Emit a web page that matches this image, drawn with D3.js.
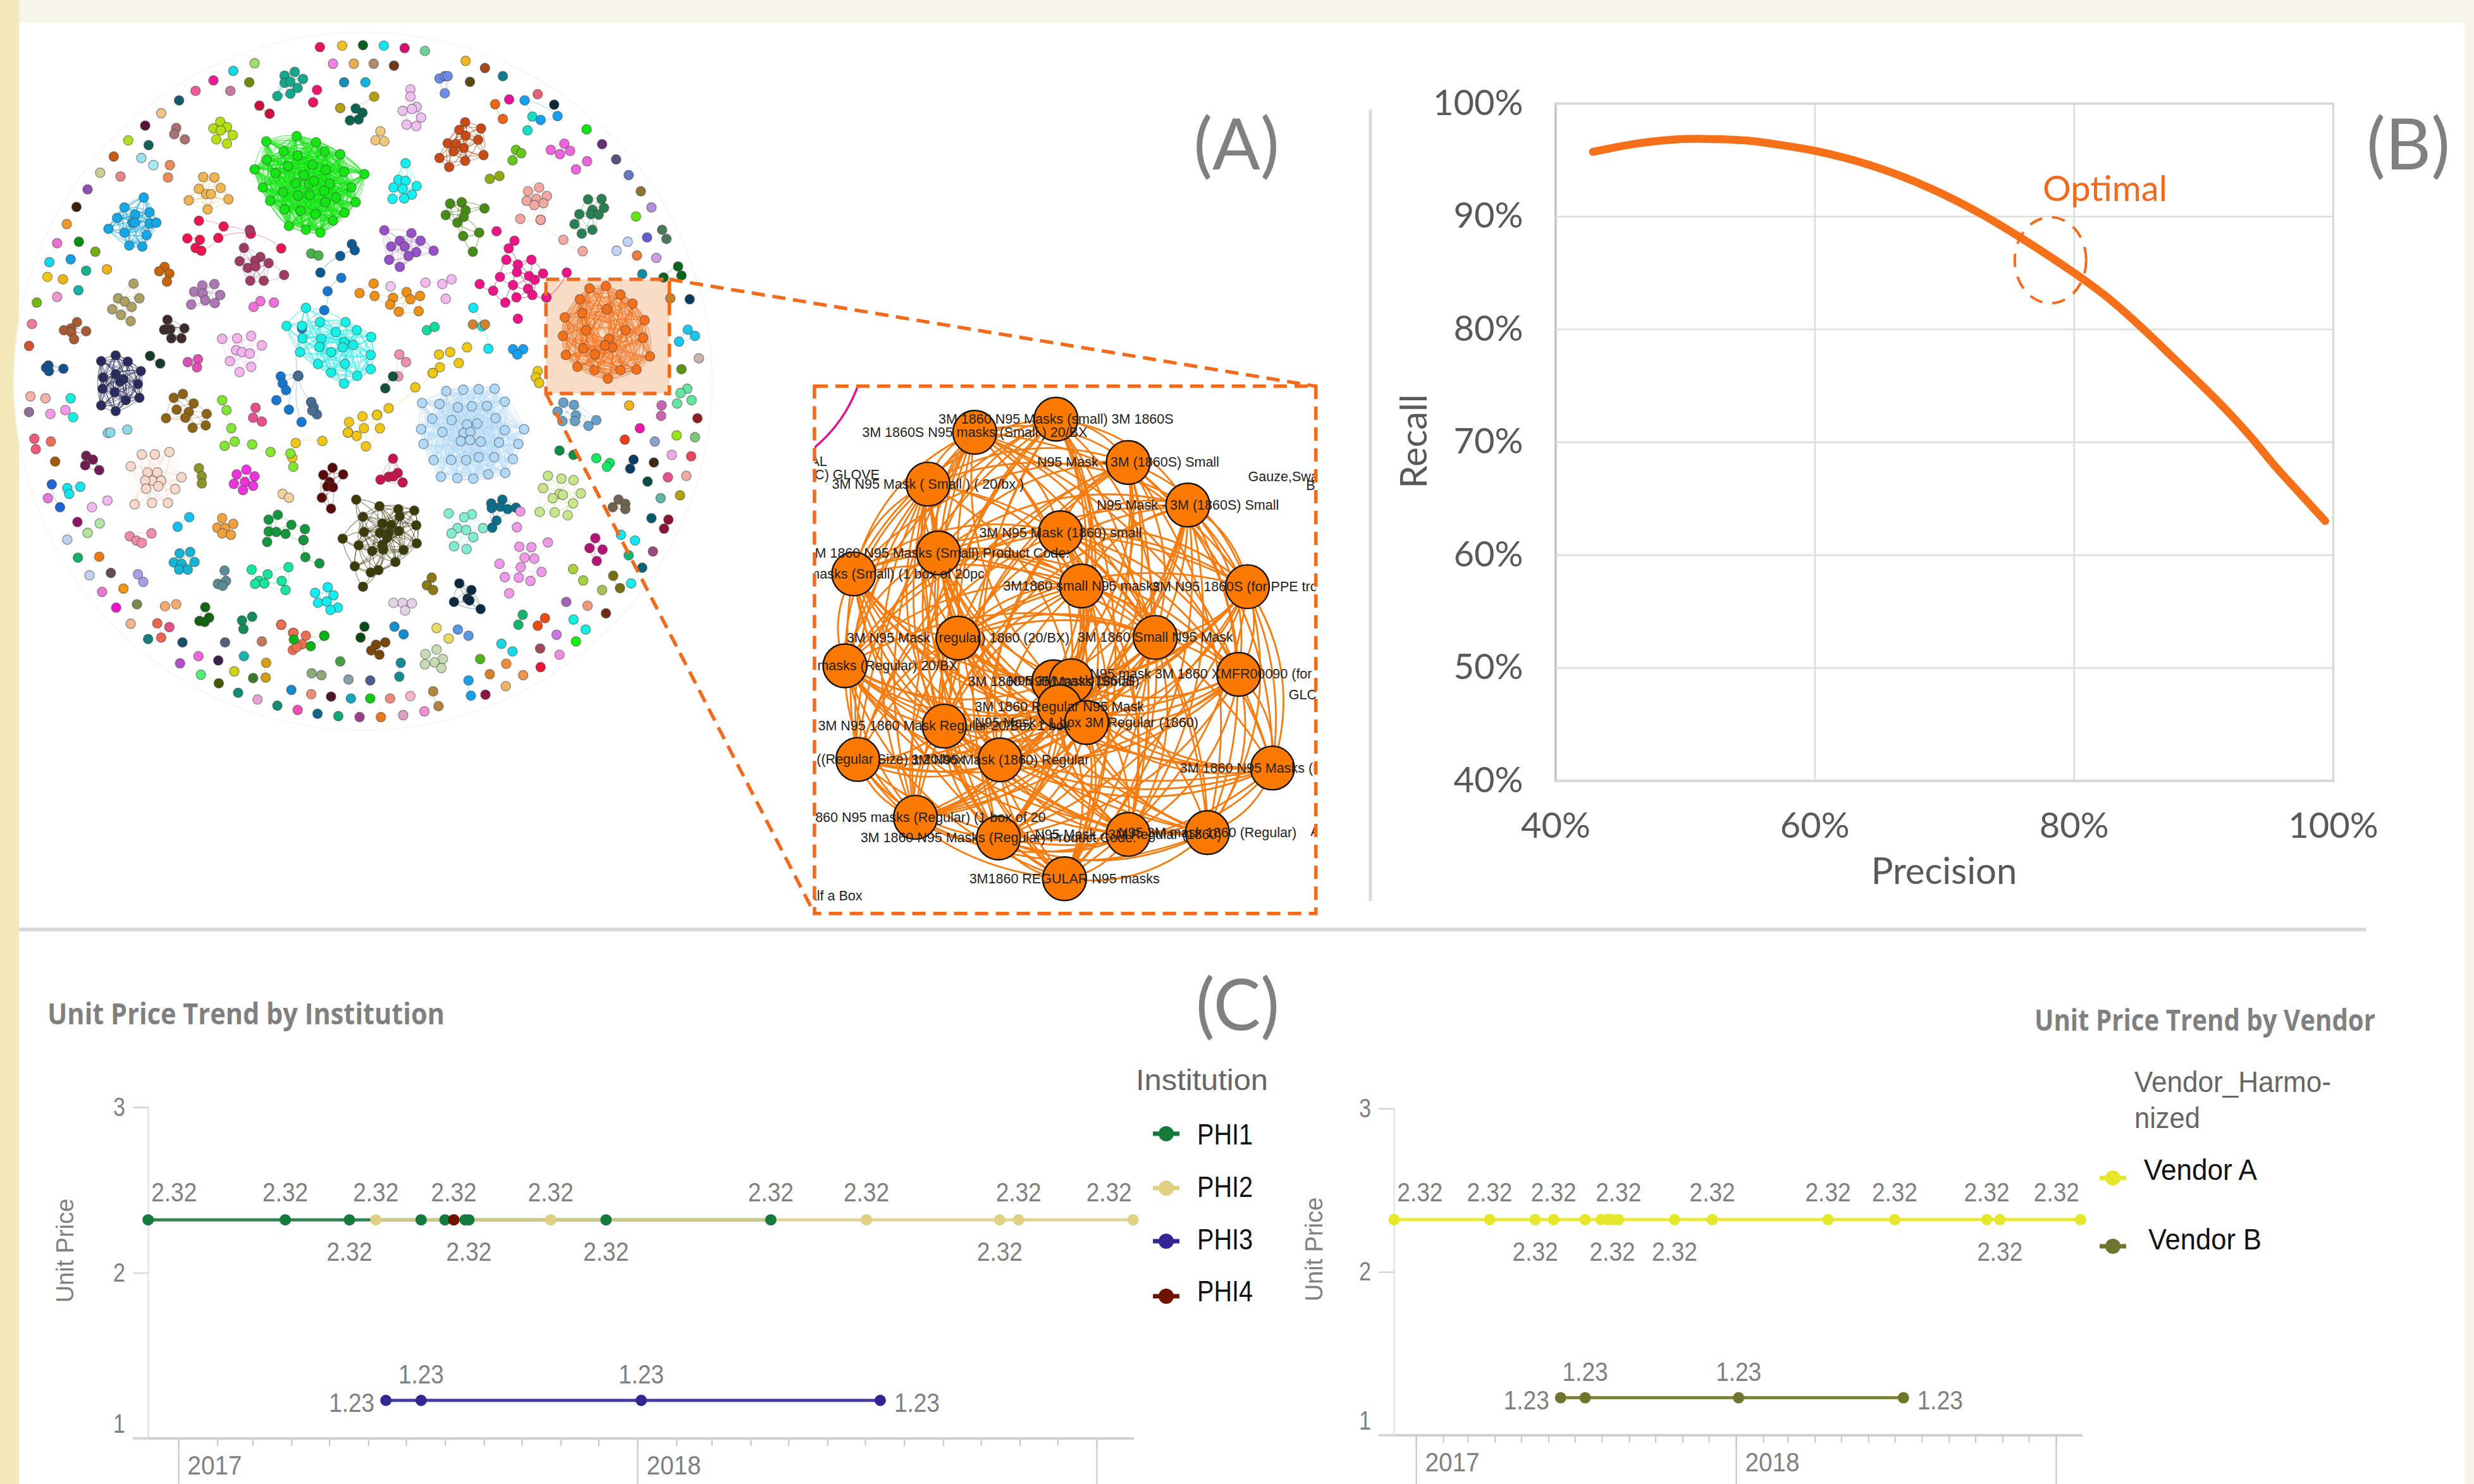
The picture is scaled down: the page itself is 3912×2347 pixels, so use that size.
<!DOCTYPE html>
<html>
<head>
<meta charset="utf-8">
<script src="https://d3js.org/d3.v7.min.js"></script>
<style>
html, body { margin: 0; padding: 0; background: #fff; }
svg { display: block; }
</style>
</head>
<body>
<svg id="chart" width="3912" height="2347"></svg>
<script>
// ---------- panel A data, node positions (units of the network layout) ----------
// third entry, where present: longest link drawn inside that cluster
const cliqueClusters = [
  ['#14a88c', [[609,151],[588,159],[626,166],[588,174],[600,172],[615,185],[573,202],[600,197]]],
  ['#ee1464', [[655,189],[647,215]]],
  ['#c8143c', [[536,222],[557,239]]],
  ['#b4a014', [[703,227],[773,203]]],
  ['#0a6450', [[735,228],[749,237],[723,253],[741,251]]],
  ['#eec0f0', [[848,188],[848,203],[861,225],[832,233],[851,229],[870,247],[840,262],[860,265]]],
  ['#6e8ce6', [[908,165],[919,160],[925,160],[919,196]]],
  ['#c84a14', [[961,257],[949,273],[962,285],[994,270],[925,301],[942,303],[958,311],[988,294],[908,332],[937,318],[999,326],[961,338],[928,351]], 70],
  ['#ee6414', [[1023,219],[1039,250]]],
  ['#14e0c8', [[1100,245],[1090,274]]],
  ['#14a0f0', [[1084,211],[1117,252],[1152,244]]],
  ['#ee64dc', [[1138,315],[1166,302],[1157,324],[1178,317]]],
  ['#ee64dc', [[1190,356],[1213,339]]],
  ['#64c814', [[1066,315],[1077,322],[1059,337]]],
  ['#8cac14', [[1012,376],[1032,370]]],
  ['#f4c878', [[786,276],[776,295],[794,297]]],
  ['#14f0f0', [[838,343],[823,378],[838,380],[813,394],[861,391],[832,397],[851,409],[811,418],[835,417]]],
  ['#b4e014', [[455,256],[441,270],[469,267],[456,274],[481,284],[447,293],[469,302]]],
  ['#a87070', [[364,269],[360,282],[382,293]]],
  ['#14e614', [[613,286],[550,297],[653,299],[703,324],[586,318],[615,327],[671,318],[526,356],[551,336],[595,349],[646,346],[569,364],[673,357],[711,361],[753,366],[628,368],[611,385],[638,387],[649,380],[543,394],[585,404],[616,411],[640,410],[681,386],[726,394],[558,422],[670,401],[694,415],[735,425],[588,440],[621,443],[672,425],[652,450],[712,447],[597,475],[632,483],[688,464],[662,489]]],
  ['#f0b450', [[420,372],[443,373],[411,397],[456,395],[426,408],[436,408],[390,421],[472,419],[429,440]]],
  ['#14a8e6', [[297,415],[257,436],[309,446],[279,451],[242,458],[309,470],[274,468],[278,468],[323,468],[224,481],[257,489],[303,494],[267,516],[294,518]]],
  ['#a03c64', [[516,483],[504,521],[495,549],[538,540],[527,548],[512,563],[555,553],[528,560],[587,578],[517,590],[545,590]], 60],
  ['#46b446', [[643,533],[658,537]]],
  ['#9650c8', [[794,484],[850,490],[826,506],[869,506],[808,518],[836,518],[896,527],[860,530],[844,538],[804,546],[826,561]], 75],
  ['#468c14', [[954,425],[930,428],[1001,438],[962,442],[921,452],[958,456],[945,468],[990,489],[957,496],[977,529]], 50],
  ['#f0a8a0', [[1114,394],[1091,402],[1130,412],[1108,418],[1088,422],[1123,427],[1104,431],[1075,460],[1117,462]], 50],
  ['#2a8050', [[1215,419],[1243,418],[1224,441],[1248,437],[1197,450],[1221,450],[1237,451],[1187,471],[1224,483],[1202,491]], 50],
  ['#4a7a5a', [[1368,483],[1377,502]]],
  ['#0a641e', [[1401,560],[1408,579],[1371,583]]],
  ['#ee1488', [[1026,486],[1063,506],[1051,522],[1046,546],[1098,546],[1070,556],[1068,572],[1033,582],[1060,599],[1093,580],[1105,588],[1122,575],[991,597],[1019,611],[1091,607],[1067,625],[1100,620],[1129,625],[1044,636],[1070,670]], 42],
  ['#aca064', [[276,596],[288,627],[244,627],[258,634],[272,645],[232,650],[250,662],[270,675]], 50],
  ['#c8640a', [[340,561],[329,570],[350,575],[345,592]]],
  ['#ac78b4', [[443,597],[418,600],[401,613],[419,617],[455,620],[424,631],[395,640],[444,637]]],
  ['#ee70d8', [[538,633],[566,636],[524,645]]],
  ['#f09014', [[772,596],[743,616],[774,622],[840,614],[868,622],[812,626],[848,629],[806,640],[824,655],[865,654]], 45],
  ['#f4b8f0', [[879,594],[914,597],[933,587],[921,628]], 40],
  ['#14f0e6', [[632,647],[592,685],[624,685],[661,677],[714,677],[737,694],[694,698],[625,711],[767,708],[664,712],[711,719],[730,725],[708,730],[660,729],[684,740],[620,740],[766,746],[657,765],[713,765],[684,783],[738,790],[766,776],[711,806]], 110],
  ['#d2822c', [[977,682],[1002,682]]],
  ['#14dca0', [[882,694],[898,687]]],
  ['#3c2c2c', [[346,672],[381,690],[343,692],[352,692],[339,693],[354,711],[375,711]]],
  ['#a85a32', [[159,677],[178,696],[147,690],[132,694],[147,698],[153,713]]],
  ['#f4b4f0', [[459,712],[490,711],[519,706],[541,726],[488,736],[500,740],[516,743],[475,759],[519,771],[495,782]]],
  ['#282c5c', [[239,747],[209,759],[264,760],[291,780],[239,786],[213,793],[255,797],[248,802],[285,807],[212,817],[237,824],[260,841],[288,836],[209,852],[239,864]]],
  ['#143c28', [[310,748],[331,764]]],
  ['#dc50b4', [[388,761],[409,755],[407,772]]],
  ['#14508c', [[100,768],[95,773],[101,780],[131,775]]],
  ['#f090b0', [[825,745],[839,761],[823,791]]],
  ['#145040', [[812,791],[796,816]]],
  ['#14a0f0', [[1060,734],[1081,734],[1069,745]]],
  ['#e6c814', [[1111,780],[1107,793],[1114,805]]],
  ['#f0c814', [[779,872],[721,887],[749,875],[785,900],[719,909],[752,900],[737,916],[756,938]], 50],
  ['#466e96', [[643,845],[648,856],[655,871],[645,863]]],
  ['#b0d8f8', [[922,822],[957,819],[989,818],[1022,817],[872,847],[908,849],[946,856],[975,854],[1006,853],[1043,844],[893,880],[933,883],[965,892],[986,890],[1024,879],[870,902],[914,908],[958,910],[972,908],[1043,904],[1083,902],[875,933],[952,927],[971,925],[993,928],[1031,930],[1071,933],[896,967],[932,967],[963,967],[989,961],[1021,961],[1060,965],[911,1002],[945,1005],[978,1006],[1009,997],[1044,994]]],
  ['#64a0c8', [[1164,846],[1186,851],[1152,865],[1190,873],[1162,885],[1232,883],[1216,895],[1188,885]], 60],
  ['#14c8f0', [[1421,693],[1403,718],[1436,706]]],
  ['#64e6a0', [[1420,817],[1406,826],[1399,848],[1429,841]]],
  ['#c864b4', [[1367,852],[1366,874]]],
  ['#0a3c64', [[1309,966],[1302,985]]],
  ['#8c1432', [[1381,1092],[1372,1111]]],
  ['#14e6f0', [[1312,1136],[1283,1124]]],
  ['#787014', [[1267,1210],[1281,1236]]],
  ['#a8d23c', [[1184,1196],[1205,1220]]],
  ['#14f0e0', [[1185,1302],[1210,1323]]],
  ['#14b46e', [[1080,1292],[1071,1313]]],
  ['#ee4a14', [[1126,1299],[1111,1315]]],
  ['#14d8e6', [[1036,1353],[1059,1369]]],
  ['#14a0e6', [[968,1430],[973,1462]]],
  ['#b4843c', [[895,1453],[906,1484]]],
  ['#d2a014', [[550,1393],[549,1424]]],
  ['#ee6450', [[333,1340],[325,1310]]],
  ['#f4aa6e', [[341,1274],[364,1270]]],
  ['#a8a0e6', [[285,1207],[296,1223]]],
  ['#1e64d2', [[107,1018],[124,1066]]],
  ['#14e6f0', [[139,1026],[143,1038],[166,1023]]],
  ['#ee5a78', [[71,922],[74,944]]],
  ['#f4b4a8', [[63,833],[94,837]]],
  ['#f49ae8', [[104,870],[135,862]]],
  ['#14f0e0', [[146,837],[151,877]]],
  ['#8cd8e6', [[223,910],[228,909],[263,903]]],
  ['#6e1e50', [[178,958],[192,966],[176,978],[205,988]]],
  ['#f8d8c8', [[293,955],[320,955],[350,950],[270,980],[305,993],[325,993],[375,1003],[315,1010],[300,1010],[333,1010],[362,1028],[302,1027],[327,1022],[278,1060],[314,1057],[347,1057]]],
  ['#8c9628', [[411,984],[417,1001],[417,1016]]],
  ['#8c6414', [[378,828],[359,836],[400,848],[365,861],[390,866],[383,878],[427,870],[343,879],[398,899],[425,894]], 50],
  ['#e6508c', [[528,857],[523,878],[541,886]]],
  ['#f032dc', [[509,987],[526,1001],[489,997],[506,1013],[483,1017],[523,1021],[502,1030]]],
  ['#5a0a0a', [[687,983],[668,998],[709,997],[681,1013],[676,1022],[688,1024],[665,1046],[684,1069]], 50],
  ['#c8144c', [[812,964],[786,1008],[803,1002],[822,994],[813,1001],[832,1014]]],
  ['#f4d2a0', [[584,1038],[597,1046]]],
  ['#3c3c0a', [[736,1050],[784,1064],[823,1070],[856,1073],[750,1086],[826,1085],[790,1100],[808,1103],[860,1104],[752,1118],[785,1120],[824,1116],[708,1132],[800,1130],[861,1142],[741,1146],[790,1145],[769,1158],[792,1155],[834,1156],[817,1181],[733,1190],[782,1198],[766,1203],[750,1233],[803,1120]], 75],
  ['#82ecd0', [[927,1079],[975,1081],[959,1087],[945,1110],[963,1114],[933,1121],[978,1129],[938,1148],[964,1154],[998,1110]], 55],
  ['#0a6e8c', [[1038,1050],[1015,1058],[1034,1065],[1016,1068],[1049,1070],[1066,1067],[1026,1094],[1017,1109]], 45],
  ['#ee9ae8', [[1068,1108],[1073,1149],[1098,1150],[1132,1140],[1084,1172],[1104,1174],[1032,1185],[1076,1192],[1119,1202],[1043,1213],[1072,1214],[1096,1221],[1052,1247],[1075,1075]], 50],
  ['#c8e68c', [[1132,1000],[1160,1006],[1185,1009],[1122,1026],[1156,1038],[1142,1047],[1163,1040],[1200,1037],[1184,1058],[1115,1076],[1146,1077],[1173,1083]], 75],
  ['#0a8c46', [[1156,947],[1185,956]]],
  ['#14e664', [[1232,963],[1260,973],[1254,981]]],
  ['#706450', [[1278,1050],[1266,1066],[1292,1059],[1292,1070]]],
  ['#b41478', [[1230,1131],[1218,1152],[1245,1155],[1233,1179]]],
  ['#f0a03c', [[459,1089],[482,1101],[449,1109],[465,1110],[459,1121],[477,1124]]],
  ['#14c0f0', [[391,1087],[367,1107]]],
  ['#f08ca8', [[313,1121],[268,1127],[282,1136],[293,1141]]],
  ['#14963c', [[574,1082],[555,1092],[602,1103],[630,1112],[555,1117],[571,1118],[590,1122],[552,1139],[627,1135]], 40],
  ['#14b4d2', [[371,1163],[393,1160],[359,1182],[402,1181],[375,1185],[370,1197],[388,1197]]],
  ['#5a8c96', [[464,1199],[467,1221],[450,1227],[460,1231]]],
  ['#14e69a', [[520,1197],[596,1192],[553,1207],[535,1221],[527,1227],[546,1226],[582,1221],[590,1240]], 50],
  ['#14ecf0', [[677,1234],[651,1246],[689,1251],[657,1267],[675,1264],[698,1277],[683,1282]]],
  ['#8c7814', [[892,1214],[882,1230],[895,1240]]],
  ['#0a2a40', [[949,1226],[974,1240],[938,1265],[966,1258],[970,1262],[993,1280]]],
  ['#e6d2e8', [[813,1267],[832,1267],[851,1268],[837,1283]]],
  ['#146414', [[424,1276],[432,1298],[412,1305],[423,1307]]],
  ['#148c5a', [[521,1296],[500,1304],[503,1322]]],
  ['#ee6e50', [[581,1313],[606,1330],[632,1336],[624,1354],[605,1366],[613,1360]], 30],
  ['#0ab414', [[670,1336],[607,1344],[642,1358]], 40],
  ['#0a4a14', [[753,1317],[745,1340]]],
  ['#148cd2', [[815,1317],[834,1333]]],
  ['#7a460a', [[796,1350],[777,1355],[767,1367],[784,1376]]],
  ['#e6dc64', [[902,1320],[927,1342]]],
  ['#5a96e6', [[946,1323],[968,1336]]],
  ['#c8dcb4', [[902,1365],[879,1375],[915,1385],[898,1392],[878,1396],[912,1404]]],
  ['#8caa7a', [[644,1415],[664,1419]]],
  ['#148c96', [[828,1393],[825,1422]]],
  ['#f4701a', [[1218,606],[1252,601],[1282,619],[1198,629],[1307,638],[1203,658],[1254,650],[1167,667],[1332,673],[1211,694],[1293,694],[1163,706],[1329,710],[1258,712],[1205,732],[1265,730],[1250,726],[1169,746],[1229,745],[1343,749],[1193,771],[1228,778],[1282,778],[1315,777],[1256,796]]]
];
// these balls read darker, their links are drawn stronger
const strongLinkColors = ['#f4701a','#14e614','#14f0e6','#282c5c','#3c3c0a','#14a8e6','#ee1488','#c84a14','#468c14'];

// clusters that read as strings of nodes rather than dense balls
const chainClusters = [
  ['#ee1450', [[411,464],[462,476],[518,491],[581,522]]],
  ['#ee1450', [[387,501],[413,504],[404,521],[416,527],[451,500],[518,491]]],
  ['#0a5a96', [[727,513],[733,526],[703,538],[662,573]]],
  ['#1478d2', [[705,584],[677,612],[670,652],[624,690],[616,790]]],
  ['#f0a8a0', [[1117,462],[1164,504],[1204,528]]],
  ['#ee1488', [[1129,625],[1171,573]]],
  ['#14e6f0', [[978,647],[996,686],[1009,733]]],
  ['#f0c814', [[965,730],[930,740],[907,745],[894,784],[858,814],[803,858],[779,872]]],
  ['#f0c814', [[948,763],[909,772],[894,784]]],
  ['#f0c814', [[719,909],[666,927],[611,931],[604,962]]],
  ['#1478d2', [[580,791],[616,790],[584,806],[591,820],[571,841]]],
  ['#1478d2', [[616,790],[597,861]]],
  ['#1478d2', [[616,790],[623,887]]],
  ['#466e96', [[616,790],[643,845]]],
  ['#82e632', [[459,841],[468,862],[478,900],[464,937],[485,928],[521,934],[559,950],[600,953],[606,981]]],
  ['#14963c', [[627,1135],[631,1171],[660,1184]]],
  ['#ee6e50', [[581,1313],[606,1330],[670,1336]]]
];

const isolatedNodes = [
  [661,99,'#e6164f'],[707,96,'#f0c020'],[750,95,'#0a5c1e'],[793,96,'#14e6f0'],[836,101,'#d4106e'],[878,107,'#74d09a'],
  [688,134,'#ee82e0'],[731,134,'#e8ad55'],[772,134,'#b08c6e'],[814,138,'#703a14'],[711,173,'#178fb4'],[755,173,'#14b4e0'],
  [526,133,'#a0e06a'],[482,149,'#12d8e6'],[441,169,'#ee1a9a'],[515,173,'#6e8c14'],[404,191,'#ee5a94'],[476,191,'#c47aa0'],[370,211,'#145a6e'],
  [962,128,'#f0b41e'],[1002,143,'#a8481a'],[1039,160,'#147c8c'],[971,172,'#5a4a14'],
  [1052,209,'#e6149c'],[1111,198,'#e6607a'],[1145,220,'#0a2a3c'],[1212,272,'#14e614'],[1244,303,'#64307a'],[1273,335,'#5c5080'],[1299,368,'#6478c0'],
  [1324,402,'#8c7434'],[1346,436,'#b48ce0'],[1314,455,'#64e614'],[1337,499,'#6060d0'],[1297,508,'#c0d4f8'],[1274,527,'#c0d4f8'],[1316,537,'#ee7a3c'],
  [1356,542,'#c8a0e0'],[1327,576,'#148ca0'],[1385,627,'#c8822c'],[1425,629,'#0a3c5a'],[1444,753,'#c8b4a8'],[1408,776,'#5a9614'],[1300,852,'#f0b41e'],
  [1441,879,'#8c2020'],[1322,900,'#ee14a8'],[1398,915,'#96e614'],[1353,928,'#8ca0d2'],[1436,919,'#78c878'],[1291,924,'#ee3c14'],[1388,956,'#f0a8e6'],
  [1428,959,'#e64660'],[1351,972,'#3c2814'],[1418,1000,'#f4a8a0'],[1380,1003,'#e6508c'],[1338,1012,'#0a4c46'],[1365,1047,'#64b4a8'],[1405,1041,'#b4a00a'],
  [1346,1089,'#0a5a6e'],[1349,1159,'#9a4a82'],[1299,1167,'#14b478'],[1327,1193,'#0a6478'],[1304,1226,'#14f0f0'],[1244,1240,'#a8c05a'],[1214,1273,'#ee9a78'],
  [1170,1265,'#a864b4'],[1252,1289,'#6e2a14'],[1150,1334,'#c878e0'],[1190,1348,'#14f014'],[1116,1363,'#a04a5a'],[1156,1376,'#f08ce0'],[1117,1402,'#ee1432'],
  [1081,1419,'#ee9650'],[1046,1395,'#ee8c3c'],[1012,1417,'#d88228'],[992,1385,'#50b414'],[1003,1460,'#8c1446'],[1045,1442,'#f0b464'],
  [848,1463,'#f4b4d2'],[877,1495,'#f090d2'],[833,1503,'#dca0c0'],[787,1507,'#ee7814'],[806,1468,'#f08c78'],[743,1507,'#a03c8c'],[765,1468,'#14c814'],
  [725,1468,'#14a8c0'],[699,1505,'#14a878'],[684,1464,'#501428'],[656,1500,'#14648c'],[643,1459,'#ee8c78'],[615,1492,'#ee50b4'],[602,1450,'#148cc8'],
  [573,1483,'#148c78'],[532,1470,'#e6a0d2'],[492,1456,'#148c78'],[452,1436,'#465a0a'],[523,1425,'#3c7a28'],[484,1411,'#d2d214'],[415,1418,'#50f078'],
  [451,1388,'#3c2050'],[504,1379,'#14b4b4'],[372,1394,'#b450c8'],[410,1379,'#f064e0'],[465,1350,'#506478'],[377,1350,'#14506e'],[541,1348,'#c8785a'],
  [306,1343,'#14807a'],[350,1318,'#e65082'],[270,1311,'#f4b48c'],[283,1270,'#788c50'],[240,1277,'#ee14c8'],[255,1237,'#f09614'],[211,1244,'#e678d2'],
  [185,1209,'#c0d4f0'],[229,1204,'#644a5a'],[161,1172,'#14b464'],[205,1170,'#f07814'],[139,1134,'#c0d2f0'],[181,1120,'#b4e6a0'],[206,1100,'#b4e6a8'],
  [160,1097,'#8c1464'],[190,1066,'#f4b8f0'],[222,1052,'#f4b8f0'],[99,1047,'#e678dc'],[114,970,'#a05a0a'],[105,928,'#ee6e5a'],[60,866,'#8c7096'],
  [333,238,'#f2c28c'],[300,264,'#5c1434'],[265,295,'#b0e020'],[307,305,'#14605a'],[235,329,'#c85a14'],[292,332,'#a0e0ee'],[317,347,'#a8ecf0'],
  [351,347,'#ee8a55'],[347,373,'#ee8a55'],[207,363,'#cdcd96'],[249,371,'#f0828c'],[181,398,'#8c50b4'],[158,435,'#401e0a'],[138,471,'#ee9628'],
  [118,511,'#ee6ed2'],[163,508,'#0a8c14'],[197,529,'#74ae14'],[102,551,'#14d8f0'],[146,545,'#14a0e6'],[178,569,'#14b48c'],[221,566,'#f0b414'],
  [98,582,'#f0c814'],[130,587,'#f0b414'],[162,610,'#14b4a8'],[118,624,'#f096d2'],[76,636,'#74b814'],[66,681,'#ee7898'],[60,727,'#d4502e'],
  [807,602,'#f0c8f0'],[703,1390,'#46a046'],[720,1428,'#8ca0aa'],[765,1430,'#505a96']
];

// ---------- zoomed network data ----------
const insetNodes = [
  [765,130,'3M 1860 N95 Masks (small) 3M 1860S'],[525,167,'3M 1860S N95 masks (Small ) 20/BX'],
  [978,252,'N95 Mask - 3M (1860S) Small'],[387,313,'3M N95 Mask ( Small ) ( 20/bx )'],
  [1154,372,'N95 Mask - 3M (1860S) Small'],[778,450,'3M N95 Mask (1860) small'],
  [418,507,'3M 1860 N95 Masks (Small) Product Code:'],[168,566,'3M 1860 N95 masks (Small) (1 box of 20pc'],
  [840,600,'3M1860 small N95 masks'],[1330,602,'3M N95 1860S (for PPE trolley)'],
  [476,747,'3M N95 Mask (regular) 1860 (20/BX)'],[1058,745,'3M 1860 Small N95 Mask'],
  [142,825,'3M 1860 N95 masks (Regular) 20/BX'],[1304,849,'N95 mask 3M 1860 XMFR00090 (for PPE trolley)'],
  [758,870,'3M 1860 N95 Masks (Small)'],[810,867,'N95 3M mask 1860S'],
  [775,940,'3M 1860 Regular N95 Mask'],[855,985,'N95 Mask - 1 box 3M Regular (1860)'],
  [435,995,'3M N95 1860 Mask Regular 20/Box 1 box'],[180,1089,'N95 Mask ((Regular Size) 1 20/box'],
  [600,1090,'3M N95 Mask (1860) Regular'],[1404,1113,'3M 1860 N95 Masks (Regular)'],
  [350,1252,'3M 1860 N95 masks (Regular) (1 box of 20'],[595,1310,'3M 1860 N95 Masks (Regular) Product Code:'],
  [978,1300,'N95 Mask - 3M Regular (1860)'],[1212,1295,'N95 3M mask 1860 (Regular)'],
  [790,1425,'3M1860 REGULAR N95 masks']
];
const insetStrayLabels = [
  ['Half a Box', 8, 1486], ['3M 1860 AL', -125, 262], ['(3M-C) GLOVE', -30, 299],
  ['Gauze,Swab', 1332, 304], ['B', 1503, 330], ['GLC', 1452, 920], ['A', 1516, 1304]
];

// ---------- panel B data ----------
const precision = [42.9,46.1,49.3,51.5,54.8,58,60,63.5,66.8,70,73,75.9,80,82.5,84.9,87.1,89.9,91.8,93.7,95.5,97.4,99.4];
const recall = [95.7,96.4,96.8,96.85,96.7,96.2,95.8,94.8,93.5,91.9,90.1,88.1,85,82.9,80.5,78.1,75,72.8,70.4,67.9,65.5,63];
const precisionTicks = [40,60,80,100];
const recallTicks = [40,50,60,70,80,90,100];
const optimalPoint = [78.2, 86.1];

// ---------- panel C data ----------
// label codes: a above, b below, l left, r right, f above pushed right, e above pushed left
const phi1Dates = ['2016-12-08','2017-03-27','2017-05-17','2017-07-13','2017-08-01','2017-08-17','2017-08-20','2017-12-07','2018-04-17'];
const phi1Labels = ['f','a','b','','','','b','b','a'];
const phi2Dates = ['2017-06-07','2017-08-08','2017-10-24','2018-07-02','2018-10-16','2018-10-31','2019-01-30'];
const phi2Labels = ['a','','a','a','b','a','e'];
const phi3Dates = ['2017-06-15','2017-07-13','2018-01-04','2018-07-13'];
const phi3Labels = ['l','a','a','r'];
const phi4Dates = ['2017-08-08'];
const phi4Labels = ['a'];
const institutionNames = ['PHI1','PHI2','PHI3','PHI4'];
const institutionColors = ['#157a3c','#e0d084','#322693','#6f1200'];
const institutionPrices = [2.32,2.32,1.23,2.32];

const vendorADates = ['2016-12-07','2017-03-26','2017-05-17','2017-06-07','2017-07-13','2017-07-31','2017-08-08','2017-08-13','2017-08-20','2017-10-23','2017-12-05','2018-04-16','2018-07-01','2018-10-14','2018-10-29','2019-01-29'];
const vendorALabels = ['f','a','b','a','','','','b','a','b','a','a','a','a','b','e'];
const vendorBDates = ['2017-06-15','2017-07-13','2018-01-04','2018-07-11'];
const vendorBLabels = ['l','a','a','r'];
const vendorNames = ['Vendor A','Vendor B'];
const vendorColors = ['#e6e62a','#6f752c'];
const vendorPrices = [2.32,1.23];

const priceTicks = [1,2,3];
const yearLabels = ['2017','2018'];

// ----------------------------------------------------------------------
const svg = d3.select('#chart');
const grey = '#808080';
const orange = '#f26b1d';
const parseDate = d3.timeParse('%Y-%m-%d');
const sans = '"Liberation Sans",Arial,sans-serif';
const lightFont = 'Lato,"Open Sans",sans-serif';

// the reference text is a condensed face, none is installed, so squeeze to the measured width
const squeeze = (sel, width) => sel.attr('textLength', width).attr('lengthAdjust', 'spacingAndGlyphs');

// page frame
svg.append('rect').attr('width', 3912).attr('height', 2347).attr('fill', '#fff');
svg.append('rect').attr('width', 3912).attr('height', 36).attr('fill', '#f6f6e8');
svg.append('rect').attr('x', 3897).attr('width', 15).attr('height', 2347).attr('fill', '#f6f6e8');
svg.append('rect').attr('width', 30).attr('height', 2347).attr('fill', '#f3e8b8');

// panel letters
function panelLetter(text, x, y) {
  svg.append('text').attr('x', x).attr('y', y)
    .attr('text-anchor', 'middle').attr('font-family', lightFont).attr('font-weight', 400)
    .attr('font-size', 112).attr('fill', '#808080').text(text);
}
panelLetter('(A)', 1955, 268);
panelLetter('(B)', 3808, 268);
panelLetter('(C)', 1957, 1629);

// dividers
svg.append('line').attr('x1', 2167).attr('x2', 2167).attr('y1', 173).attr('y2', 1425).attr('stroke', '#d9d9d9').attr('stroke-width', 5);
svg.append('line').attr('x1', 30).attr('x2', 3741).attr('y1', 1470).attr('y2', 1470).attr('stroke', '#d9d9d9').attr('stroke-width', 6);

// ---------- panel A ----------
const netX = d3.scaleLinear().domain([0, 1568]).range([0, 1200]);
const netY = d3.scaleLinear().domain([0, 1568]).range([0, 1180]);

function bentLink(a, b, center, bend) {
  const mx = (a[0] + b[0]) / 2, my = (a[1] + b[1]) / 2;
  let nx = a[1] - b[1], ny = b[0] - a[0];
  // always bend away from the middle of the cluster
  if (nx * (mx - center[0]) + ny * (my - center[1]) < 0) { nx = -nx; ny = -ny; }
  const p = d3.path();
  p.moveTo(a[0], a[1]);
  p.quadraticCurveTo(mx + nx * bend, my + ny * bend, b[0], b[1]);
  return p.toString();
}
function allPairs(pts, maxLen) {
  const pairs = d3.merge(pts.map((a, i) => pts.slice(i + 1).map(b => [a, b])));
  return maxLen ? pairs.filter(d => Math.hypot(d[0][0] - d[1][0], d[0][1] - d[1][1]) <= maxLen) : pairs;
}

svg.append('circle').attr('cx', 574).attr('cy', 603).attr('r', 552).attr('fill', '#fff').attr('stroke', '#f6f6f6').attr('stroke-width', 2);
svg.append('rect').attr('x', netX(1128)).attr('y', netY(587))
  .attr('width', netX(1383) - netX(1128)).attr('height', netY(827) - netY(587)).attr('fill', '#f9dcc6');

const networkGroup = svg.append('g');
const linkLayer = networkGroup.append('g').attr('fill', 'none');
const nodeLayer = networkGroup.append('g').attr('stroke', '#444').attr('stroke-opacity', 0.55).attr('stroke-width', 1.3);

function drawCluster(color, rawPts, pairs) {
  const center = [d3.mean(rawPts, d => netX(d[0])), d3.mean(rawPts, d => netY(d[1]))];
  linkLayer.append('g').attr('stroke', color).attr('stroke-width', 1.1)
    .attr('stroke-opacity', strongLinkColors.includes(color) ? 0.62 : 0.36)
    .selectAll('path').data(pairs).join('path')
    .attr('d', d => bentLink([netX(d[0][0]), netY(d[0][1])], [netX(d[1][0]), netY(d[1][1])], center, 0.16));
  nodeLayer.append('g').attr('fill', color)
    .selectAll('circle').data(rawPts).join('circle')
    .attr('cx', d => netX(d[0])).attr('cy', d => netY(d[1])).attr('r', 7.6);
}
chainClusters.forEach(c => drawCluster(c[0], c[1], d3.pairs(c[1])));
cliqueClusters.forEach(c => drawCluster(c[0], c[1], allPairs(c[1], c[2])));
nodeLayer.append('g').selectAll('circle').data(isolatedNodes).join('circle')
  .attr('cx', d => netX(d[0])).attr('cy', d => netY(d[1])).attr('r', 7.6).attr('fill', d => d[2]);

// ---------- zoomed network ----------
const insetX = d3.scaleLinear().domain([0, 1568]).range([1260, 2100]);
const insetY = d3.scaleLinear().domain([0, 1568]).range([590, 1470]);
const insetBox = { x: insetX(52), y: insetY(37), w: insetX(1532) - insetX(52), h: insetY(1523) - insetY(37) };

svg.append('clipPath').attr('id', 'insetClip').append('rect')
  .attr('x', insetBox.x).attr('y', insetBox.y).attr('width', insetBox.w).attr('height', insetBox.h);
svg.append('rect').attr('x', insetBox.x).attr('y', insetBox.y).attr('width', insetBox.w).attr('height', insetBox.h).attr('fill', '#fff');

const inset = svg.append('g').attr('clip-path', 'url(#insetClip)');
const insetPts = insetNodes.map(d => [insetX(d[0]), insetY(d[1])]);
const insetCenter = [d3.mean(insetPts, d => d[0]), d3.mean(insetPts, d => d[1])];

inset.append('path').attr('fill', 'none').attr('stroke', '#e6108a').attr('stroke-width', 3.5)
  .attr('d', () => { const p = d3.path(); p.moveTo(insetX(180), insetY(37)); p.quadraticCurveTo(insetX(140), insetY(140), insetX(52), insetY(210)); return p.toString(); });
// the picture does not link every pair, thin the full set out a little
inset.append('g').attr('fill', 'none').attr('stroke', '#f67c10').attr('stroke-width', 2.8)
  .selectAll('path').data(allPairs(insetPts).filter((d, i) => i % 4 !== 0)).join('path')
  .attr('d', d => bentLink(d[0], d[1], insetCenter, 0.24));
inset.append('g').selectAll('circle').data(insetNodes).join('circle')
  .attr('cx', d => insetX(d[0])).attr('cy', d => insetY(d[1])).attr('r', 34.5)
  .attr('fill', '#fb7900').attr('stroke', '#111').attr('stroke-width', 2.4);
const insetText = inset.append('g').attr('font-family', sans).attr('font-size', 21.5).attr('fill', '#222');
insetText.selectAll('text.node').data(insetNodes).join('text').attr('class', 'node')
  .attr('x', d => insetX(d[0])).attr('y', d => insetY(d[1]) + 7).attr('text-anchor', 'middle').text(d => d[2]);
insetText.selectAll('text.stray').data(insetStrayLabels).join('text').attr('class', 'stray')
  .attr('x', d => insetX(d[1])).attr('y', d => insetY(d[2])).text(d => d[0]);

// dashed callout
const dash = g => g.attr('fill', 'none').attr('stroke', orange).attr('stroke-width', 5.5).attr('stroke-dasharray', '21 12');
svg.append('rect').attr('x', insetBox.x).attr('y', insetBox.y).attr('width', insetBox.w).attr('height', insetBox.h).call(dash);
svg.append('rect').attr('x', netX(1128)).attr('y', netY(587))
  .attr('width', netX(1383) - netX(1128)).attr('height', netY(827) - netY(587)).call(dash);
svg.append('line').attr('x1', netX(1383)).attr('y1', netY(587)).attr('x2', insetBox.x + insetBox.w).attr('y2', insetBox.y).call(dash);
svg.append('line').attr('x1', netX(1128)).attr('y1', netY(827)).attr('x2', insetBox.x).attr('y2', insetBox.y + insetBox.h).call(dash);

// ---------- panel B ----------
const prX = d3.scaleLinear().domain([40, 100]).range([2459.4, 3689]);
const prY = d3.scaleLinear().domain([40, 100]).range([1234.6, 163.4]);

function styleBAxis(g) {
  g.selectAll('.tick line').attr('stroke', '#dcdcdc').attr('stroke-width', 2.5);
  g.selectAll('text').attr('font-family', lightFont).attr('font-size', 56).attr('fill', '#595959');
  g.select('.domain').attr('stroke', '#c4c4c4').attr('stroke-width', 3);
}
svg.append('rect').attr('x', prX(40)).attr('y', prY(100)).attr('width', prX(100) - prX(40)).attr('height', prY(40) - prY(100))
  .attr('fill', 'none').attr('stroke', '#d4d4d4').attr('stroke-width', 2.5);
svg.append('g').attr('transform', `translate(0,${prY(40)})`)
  .call(d3.axisBottom(prX).tickValues(precisionTicks).tickSize(-(prY(40) - prY(100))).tickPadding(51).tickFormat(d => d + '%'))
  .call(styleBAxis);
svg.append('g').attr('transform', `translate(${prX(40)},0)`)
  .call(d3.axisLeft(prY).tickValues(recallTicks).tickSize(-(prX(100) - prX(40))).tickPadding(51).tickFormat(d => d + '%'))
  .call(styleBAxis);

svg.append('path').datum(d3.zip(precision, recall))
  .attr('fill', 'none').attr('stroke', '#f6701a').attr('stroke-width', 12.5).attr('stroke-linecap', 'round')
  .attr('d', d3.line().x(d => prX(d[0])).y(d => prY(d[1])).curve(d3.curveCatmullRom.alpha(0.5)));

svg.append('ellipse').attr('cx', prX(optimalPoint[0])).attr('cy', prY(optimalPoint[1])).attr('rx', 56.5).attr('ry', 68)
  .attr('fill', 'none').attr('stroke', orange).attr('stroke-width', 4).attr('stroke-dasharray', '21 16');
svg.append('text').attr('x', 3230).attr('y', 318).attr('font-family', lightFont).attr('font-size', 56).attr('fill', orange).text('Optimal');
svg.append('text').attr('x', 3074).attr('y', 1398).attr('text-anchor', 'middle').attr('font-family', lightFont).attr('font-size', 58).attr('fill', '#595959').text('Precision');
svg.append('text').attr('transform', 'translate(2256,698) rotate(-90)').attr('text-anchor', 'middle').attr('font-family', lightFont).attr('font-size', 58).attr('fill', '#595959').text('Recall');

// ---------- panel C ----------
function trendChart(cfg) {
  const x = d3.scaleTime().domain([parseDate('2017-01-01'), parseDate('2019-01-01')]).range(cfg.xRange);
  const y = d3.scaleLinear().domain([1, 3]).range(cfg.yRange);
  const g = svg.append('g');

  // title
  g.append('text').attr('x', cfg.titleX).attr('y', cfg.titleY).attr('font-family', '"Open Sans",sans-serif').attr('font-weight', 700)
    .attr('font-size', 47).attr('fill', grey).call(squeeze, cfg.titleLen).text(cfg.title);

  // axes
  const months = d3.timeMonth.range(parseDate('2017-01-01'), parseDate('2019-01-02'));
  const xAxis = g.append('g').attr('transform', `translate(0,${y(1)})`)
    .call(d3.axisBottom(x).tickValues(months).tickSize(12).tickFormat(''));
  xAxis.select('.domain').remove();
  xAxis.selectAll('line').attr('stroke', '#c4c4c4').attr('stroke-width', 2);
  const years = g.append('g').attr('transform', `translate(0,${y(1)})`)
    .call(d3.axisBottom(x).tickValues(months.filter(d => d.getMonth() === 0)).tickSize(90).tickPadding(0)
      .tickFormat((d, i) => yearLabels[i] || ''));
  years.select('.domain').remove();
  years.selectAll('line').attr('stroke', '#c4c4c4').attr('stroke-width', 2);
  years.selectAll('text').attr('text-anchor', 'start').attr('x', 14).attr('dy', 0).attr('y', cfg.yearBaseline - y(1))
    .attr('font-family', sans).attr('font-size', 42).attr('fill', grey)
    .filter(d => d.getFullYear() < 2019).call(squeeze, 86);
  g.append('line').attr('x1', cfg.axisLeft).attr('x2', cfg.axisRight).attr('y1', y(1)).attr('y2', y(1)).attr('stroke', '#cfcfcf').attr('stroke-width', 4);

  const yAxis = g.append('g').attr('transform', `translate(${cfg.xAxisAt},0)`)
    .call(d3.axisLeft(y).tickValues(priceTicks).tickSize(cfg.xAxisAt - cfg.axisLeft).tickPadding(12).tickFormat(d3.format('d')));
  yAxis.select('.domain').attr('stroke', '#dedede').attr('stroke-width', 2);
  yAxis.selectAll('line').attr('stroke', '#d0d0d0').attr('stroke-width', 2);
  yAxis.selectAll('text').attr('font-family', sans).attr('font-size', 42).attr('fill', grey).call(squeeze, 19);
  // the lowest label sits above the axis line
  yAxis.selectAll('.tick').filter(d => d === 1).select('text').attr('y', -23);
  yAxis.selectAll('.tick').filter(d => d === 1).select('line').remove();

  g.append('text').attr('transform', `translate(${cfg.yTitleX},${cfg.yTitleY}) rotate(-90)`).attr('text-anchor', 'middle')
    .attr('font-family', sans).attr('font-size', 38).attr('fill', grey).text('Unit Price');

  // lines first, points after, so markers sit on the merged stretch
  cfg.series.forEach(s => {
    g.append('path').datum(s.dates.map(parseDate))
      .attr('fill', 'none').attr('stroke', s.color).attr('stroke-width', 5).attr('stroke-opacity', 0.9)
      .attr('d', d3.line().x(d => x(d)).y(() => y(s.price)));
  });
  cfg.pointOrder.forEach(i => {
    const s = cfg.series[i];
    g.append('g').selectAll('circle').data(s.dates.map(parseDate)).join('circle')
      .attr('cx', d => x(d)).attr('cy', y(s.price)).attr('r', 9).attr('fill', s.color);
  });

  const place = {
    a: { dx: 0, dy: -29, anchor: 'middle' }, b: { dx: 0, dy: 65, anchor: 'middle' },
    f: { dx: 41, dy: -29, anchor: 'middle' }, e: { dx: -38, dy: -29, anchor: 'middle' },
    l: { dx: -18, dy: 18, anchor: 'end' }, r: { dx: 22, dy: 18, anchor: 'start' }
  };
  cfg.series.forEach(s => {
    const labelled = s.dates.map((d, i) => ({ date: parseDate(d), code: s.labels[i] })).filter(d => d.code);
    g.append('g').attr('font-family', sans).attr('font-size', 43).attr('fill', grey)
      .selectAll('text').data(labelled).join('text')
      .attr('x', d => x(d.date) + place[d.code].dx)
      .attr('y', d => y(s.price) + place[d.code].dy + (s.price < 2 && (d.code === 'a') ? 2 : 0))
      .attr('text-anchor', d => place[d.code].anchor)
      .call(squeeze, 72)
      .text(s.price.toFixed(2));
  });

  // legend
  cfg.legendTitle.forEach((t, i) => {
    g.append('text').attr('x', cfg.legendTitleX).attr('y', cfg.legendTitleY + i * 57)
      .attr('font-family', sans).attr('font-size', 47).attr('fill', '#666').call(squeeze, cfg.legendTitleLen[i]).text(t);
  });
  cfg.series.slice(0, cfg.legendCount).forEach((s, i) => {
    const row = g.append('g');
    row.append('line').attr('x1', cfg.markerX - 21).attr('x2', cfg.markerX + 21).attr('y1', cfg.markerY[i]).attr('y2', cfg.markerY[i])
      .attr('stroke', s.color).attr('stroke-width', 7);
    row.append('circle').attr('cx', cfg.markerX).attr('cy', cfg.markerY[i]).attr('r', 12).attr('fill', s.color);
    row.append('text').attr('x', cfg.legendTextX[i]).attr('y', cfg.legendTextY[i]).attr('font-family', sans).attr('font-size', 46)
      .attr('fill', '#111').call(squeeze, cfg.legendTextLen).text(s.name);
  });
}

trendChart({
  title: 'Unit Price Trend by Institution', titleX: 75, titleY: 1620, titleLen: 628,
  xRange: [282, 1734], yRange: [2275, 1751], axisLeft: 210, axisRight: 1793, xAxisAt: 234, yearBaseline: 2332,
  yTitleX: 116, yTitleY: 1978,
  series: institutionNames.map((name, i) => ({
    name, color: institutionColors[i], price: institutionPrices[i],
    dates: [phi1Dates, phi2Dates, phi3Dates, phi4Dates][i], labels: [phi1Labels, phi2Labels, phi3Labels, phi4Labels][i]
  })),
  pointOrder: [1, 0, 2, 3],
  legendTitle: ['Institution'], legendTitleLen: [209], legendTitleX: 1796, legendTitleY: 1724, legendCount: 4,
  markerX: 1844, markerY: [1793, 1879, 1963, 2050], legendTextX: [1893, 1893, 1893, 1893], legendTextY: [1810, 1893, 1976, 2058], legendTextLen: 88
});

trendChart({
  title: 'Unit Price Trend by Vendor', titleX: 3217, titleY: 1630, titleLen: 539,
  xRange: [2239, 3251], yRange: [2270, 1753], axisLeft: 2180, axisRight: 3293, xAxisAt: 2204, yearBaseline: 2327,
  yTitleX: 2091, yTitleY: 1976,
  series: vendorNames.map((name, i) => ({
    name, color: vendorColors[i], price: vendorPrices[i],
    dates: [vendorADates, vendorBDates][i], labels: [vendorALabels, vendorBLabels][i]
  })),
  pointOrder: [0, 1],
  legendTitle: ['Vendor_Harmo-', 'nized'], legendTitleLen: [311, 104], legendTitleX: 3375, legendTitleY: 1727, legendCount: 2,
  markerX: 3341, markerY: [1863, 1971], legendTextX: [3390, 3397], legendTextY: [1866, 1976], legendTextLen: 179
});
</script>
</body>
</html>
